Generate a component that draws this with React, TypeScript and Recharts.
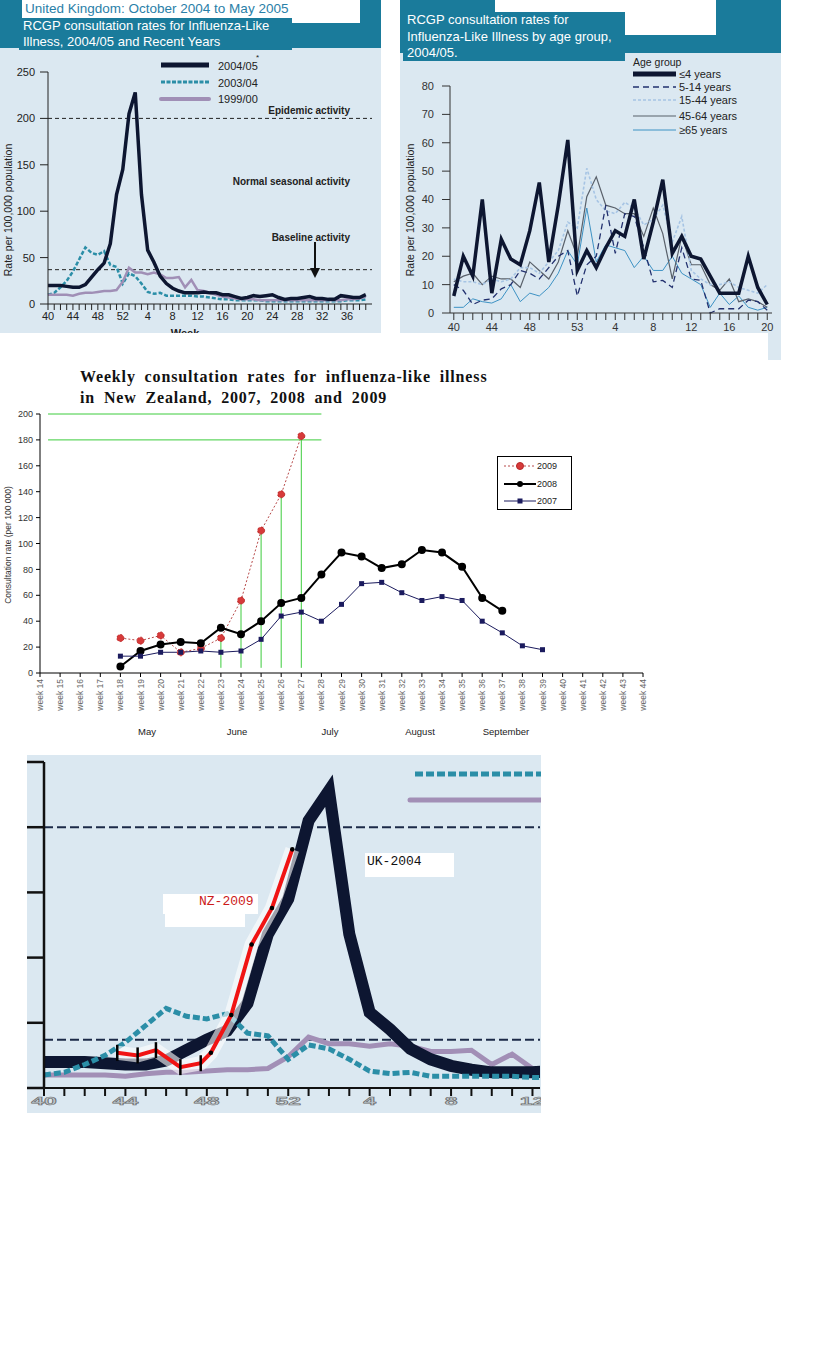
import React from 'react'
import { LineChart, Line, XAxis, YAxis, ReferenceLine } from 'recharts'

const SANS = 'Arial, "Liberation Sans", sans-serif'
const SERIF = '"Times New Roman", "Liberation Serif", serif'
const MONO = '"Courier New", "Liberation Mono", monospace'
const PANEL = '#dbe8f1'
const TEAL = '#1a7b9b'

// UK RCGP influenza-like illness, week 40 through week 39 of the next year
const ukWeeks = [40, 41, 42, 43, 44, 45, 46, 47, 48, 49, 50, 51, 52, 1, 2, 3, 4, 5, 6, 7, 8, 9, 10, 11, 12, 13, 14, 15, 16, 17, 18, 19, 20, 21, 22, 23, 24, 25, 26, 27, 28, 29, 30, 31, 32, 33, 34, 35, 36, 37, 38, 39]
const uk2004 = [20, 20, 20, 19, 18, 18, 21, 29, 37, 44, 65, 118, 145, 205, 228, 118, 58, 45, 30, 22, 17, 14, 12, 12, 12, 13, 12, 12, 10, 10, 8, 6, 7, 9, 8, 9, 10, 7, 5, 6, 6, 7, 8, 6, 6, 5, 5, 9, 8, 7, 7, 10]
const uk2003 = [10, 12, 18, 25, 35, 48, 61, 55, 53, 57, 42, 40, 22, 33, 30, 22, 13, 11, 12, 9, 9, 9, 9, 9, 8, 8, 7, 6, 5, 5, 4, 4, 4, 4, 4, 3, 3, 3, 3, 3, 3, 3, 3, 3, 3, 3, 3, 3, 4, 4, 4, 5]
const uk1999 = [10, 10, 10, 10, 9, 11, 12, 12, 13, 14, 14, 15, 24, 39, 34, 34, 32, 34, 32, 28, 28, 29, 18, 26, 15, 14, 12, 10, 8, 7, 6, 5, 5, 5, 4, 4, 4, 4, 4, 4, 4, 4, 4, 4, 4, 4, 4, 4, 5, 5, 6, 8]
const ukRateTicks = [0, 50, 100, 150, 200, 250]
const epidemicLevel = 200
const baselineLevel = 37

// RCGP by age group 2004/05, week 40 to week 20
const ageWeeks = [40, 41, 42, 43, 44, 45, 46, 47, 48, 49, 50, 51, 52, 53, 1, 2, 3, 4, 5, 6, 7, 8, 9, 10, 11, 12, 13, 14, 15, 16, 17, 18, 19, 20]
const ageLabelWeeks = [40, 44, 48, 53, 4, 8, 12, 16, 20]
const ageUnder5 = [6, 20, 13, 40, 7, 26, 19, 17, 29, 46, 18, 38, 61, 15, 22, 16, 23, 29, 27, 40, 19, 32, 47, 21, 27, 20, 19, 13, 7, 7, 7, 20, 9, 3]
const age5to14 = [10, 8, 3, 4.5, 5, 8.5, 10, 15, 14, 12, 16, 20, 22, 6, 17, 20, 38, 21, 35, 34, 23, 11, 11.5, 9, 23, 12, 11.5, 0, 1.5, 1.5, 1.5, 4.5, 4, 1]
const age15to44 = [12, 11, 11, 10, 12, 11, 12, 16, 16, 14, 18, 22, 32, 30, 51, 40, 36, 35, 39, 37, 31, 33, 38, 25, 34, 15, 12, 10, 10, 11, 9, 8, 7, 10]
const age45to64 = [11, 13, 14, 10, 13, 12, 12, 9, 18, 15, 12, 18, 29, 20, 41, 48, 38, 37, 35, 35, 27, 37, 28, 12, 27, 17, 17, 10, 8, 12, 4, 5, 4, 2]
const age65plus = [2, 2, 5, 4, 3.5, 5, 10, 4, 7, 6, 9, 14, 22, 17, 37, 18, 24, 23, 22, 16, 20, 15, 15, 20, 14, 12, 10, 2, 7, 3, 6, 2, 1, 2]
const ageRateTicks = [0, 10, 20, 30, 40, 50, 60, 70, 80]

// New Zealand weekly consultation rates (per 100 000)
const nzWeeks = [14, 15, 16, 17, 18, 19, 20, 21, 22, 23, 24, 25, 26, 27, 28, 29, 30, 31, 32, 33, 34, 35, 36, 37, 38, 39, 40, 41, 42, 43, 44]
const nzFirstWeek = 18
const nz2009 = [27, 25, 29, 16, 19, 27, 56, 110, 138, 183]
const nz2008 = [5, 17, 22, 24, 23, 35, 30, 40, 54, 58, 76, 93, 90, 81, 84, 95, 93, 82, 58, 48]
const nz2007 = [13, 13, 16, 16, 17, 16, 17, 26, 44, 47, 40, 53, 69, 70, 62, 56, 59, 56, 40, 31, 21, 18]
const nzRateTicks = [0, 20, 40, 60, 80, 100, 120, 140, 160, 180, 200]
const nzGuideLevels = [200, 180]
const nzGuideWeeks = [23, 24, 25, 26, 27]

// overlay: UK week index where each NZ-2009 week (18..27) was pasted
const nzOverlayIndex = [3.6, 4.6, 5.5, 6.7, 7.7, 8.2, 9.2, 10.2, 11.2, 12.2]

function UkSeasonChart() {
  const rows = ukWeeks.map((w, i) => ({ i, week: w, s2004: uk2004[i], s2003: uk2003[i], s1999: uk1999[i] }))
  const small = { fontSize: 11, fill: '#222', fontFamily: SANS }
  return (
    <div style={{ position: 'absolute', left: 0, top: 0, width: 381, height: 333, background: PANEL, overflow: 'hidden', fontFamily: SANS }}>
      <LineChart width={381} height={333} data={rows} margin={{ top: 72, right: 9, bottom: 0, left: 0 }}>
        <XAxis
          dataKey="i"
          type="number"
          domain={[0, 52]}
          ticks={rows.map((r) => r.i)}
          interval={0}
          tickSize={6}
          tickMargin={2}
          height={29}
          stroke="#222"
          tick={small}
          tickFormatter={(v: number) => (v % 4 === 0 ? String(ukWeeks[v]) : '')}
        />
        <YAxis domain={[0, 250]} ticks={ukRateTicks} width={48} tickSize={8} tickMargin={5} stroke="#222" tick={small} />
        <ReferenceLine y={epidemicLevel} stroke="#222" strokeDasharray="4 3" />
        <ReferenceLine y={baselineLevel} stroke="#222" strokeDasharray="4 3" />
        <Line dataKey="s2003" stroke="#2b8ea7" strokeWidth={2.5} strokeDasharray="4 2" dot={false} isAnimationActive={false} />
        <Line dataKey="s1999" stroke="#a08fb6" strokeWidth={2.5} dot={false} isAnimationActive={false} />
        <Line dataKey="s2004" stroke="#0d1631" strokeWidth={3.5} dot={false} isAnimationActive={false} />
      </LineChart>

      <div style={{ position: 'absolute', left: 0, top: 0, width: 381, height: 48, background: TEAL }} />
      <div style={{ position: 'absolute', left: 22, top: 0, width: 268, height: 18, background: '#fff' }} />
      <div style={{ position: 'absolute', left: 290, top: 0, width: 70, height: 23, background: '#fff' }} />
      <div style={{ position: 'absolute', left: 25, top: 0, fontSize: 13.5, lineHeight: '17px', color: '#2a80a8', whiteSpace: 'nowrap' }}>
        United Kingdom: October 2004 to May 2005
      </div>
      <div style={{ position: 'absolute', left: 19, top: 18, width: 273, height: 32, background: TEAL }} />
      <div style={{ position: 'absolute', left: 23, top: 18, fontSize: 13, lineHeight: '16px', color: '#fff', whiteSpace: 'nowrap' }}>
        RCGP consultation rates for Influenza-Like
        <br />
        Illness, 2004/05 and Recent Years
      </div>

      <svg style={{ position: 'absolute', left: 0, top: 0 }} width={381} height={333}>
        <line x1={161} x2={209} y1={65} y2={65} stroke="#0d1631" strokeWidth={5} />
        <line x1={161} x2={209} y1={82} y2={82} stroke="#2b8ea7" strokeWidth={3} strokeDasharray="4 1.5" />
        <line x1={161} x2={209} y1={99} y2={99} stroke="#a08fb6" strokeWidth={4} strokeLinecap="round" />
        <g fontSize={11} fill="#222" fontFamily={SANS}>
          <text x={218} y={70}>2004/05</text>
          <text x={256} y={60} fontSize={8}>*</text>
          <text x={218} y={87}>2003/04</text>
          <text x={218} y={103}>1999/00</text>
        </g>
        <g fontSize={10} fontWeight="bold" fill="#222" fontFamily={SANS} textAnchor="end">
          <text x={350} y={114}>Epidemic activity</text>
          <text x={350} y={185}>Normal seasonal activity</text>
          <text x={350} y={241}>Baseline activity</text>
        </g>
        <line x1={315} x2={315} y1={242} y2={270} stroke="#111" strokeWidth={2} />
        <polygon points="310,268 320,268 315,278" fill="#111" />
        <text x={185} y={337} textAnchor="middle" fontSize={11} fontWeight="bold" fill="#222" fontFamily={SANS}>Week</text>
        <text transform="translate(12,210) rotate(-90)" textAnchor="middle" fontSize={10.5} fill="#222" fontFamily={SANS}>
          Rate per 100,000 population
        </text>
      </svg>
    </div>
  )
}

function AgeGroupChart() {
  const rows = ageWeeks.map((w, i) => ({
    i,
    week: w,
    a0: ageUnder5[i],
    a5: age5to14[i],
    a15: age15to44[i],
    a45: age45to64[i],
    a65: age65plus[i],
  }))
  const small = { fontSize: 11, fill: '#333', fontFamily: SANS }
  return (
    <>
      <div style={{ position: 'absolute', left: 768, top: 330, width: 13, height: 30, background: PANEL }} />
      <div style={{ position: 'absolute', left: 400, top: 0, width: 381, height: 333, background: PANEL, overflow: 'hidden', fontFamily: SANS }}>
        <LineChart width={381} height={333} data={rows} margin={{ top: 86, right: 9, bottom: 0, left: 0 }}>
          <XAxis
            dataKey="i"
            type="number"
            domain={[-0.4, 33.5]}
            ticks={rows.map((r) => r.i)}
            interval={0}
            tickSize={7}
            tickMargin={3}
            height={20}
            stroke="#333"
            tick={small}
            tickFormatter={(v: number) => (ageLabelWeeks.includes(ageWeeks[v]) ? String(ageWeeks[v]) : '')}
          />
          <YAxis domain={[0, 80]} ticks={ageRateTicks} width={50} tickSize={8} tickMargin={8} stroke="#333" tick={small} />
          <Line dataKey="a65" stroke="#3d92c4" strokeWidth={1} dot={false} isAnimationActive={false} />
          <Line dataKey="a45" stroke="#59606a" strokeWidth={1.2} dot={false} isAnimationActive={false} />
          <Line dataKey="a15" stroke="#a6c4e4" strokeWidth={1.6} strokeDasharray="3 2" dot={false} isAnimationActive={false} />
          <Line dataKey="a5" stroke="#22306e" strokeWidth={1.3} strokeDasharray="6 4" dot={false} isAnimationActive={false} />
          <Line dataKey="a0" stroke="#0d1631" strokeWidth={3.5} dot={false} isAnimationActive={false} />
        </LineChart>

        <div style={{ position: 'absolute', left: 0, top: 0, width: 381, height: 53, background: TEAL }} />
        <div style={{ position: 'absolute', left: 95, top: 0, width: 221, height: 35, background: '#fff' }} />
        <div style={{ position: 'absolute', left: 3, top: 12, width: 222, height: 49, background: TEAL }} />
        <div style={{ position: 'absolute', left: 7, top: 12, fontSize: 13, lineHeight: '16.5px', color: '#fff', whiteSpace: 'nowrap' }}>
          RCGP consultation rates for
          <br />
          Influenza-Like Illness by age group,
          <br />
          2004/05.
        </div>

        <svg style={{ position: 'absolute', left: 0, top: 0 }} width={381} height={333}>
          <text x={233} y={66} fontSize={10.5} fill="#222" fontFamily={SANS}>Age group</text>
          <line x1={233} x2={276} y1={74} y2={74} stroke="#0d1631" strokeWidth={5} />
          <line x1={233} x2={276} y1={87} y2={87} stroke="#22306e" strokeWidth={1.3} strokeDasharray="6 4" />
          <line x1={233} x2={276} y1={100} y2={100} stroke="#a6c4e4" strokeWidth={1.6} strokeDasharray="3 2" />
          <line x1={233} x2={276} y1={116} y2={116} stroke="#59606a" strokeWidth={1.2} />
          <line x1={233} x2={276} y1={130} y2={130} stroke="#3d92c4" strokeWidth={1} />
          <g fontSize={11} fill="#222" fontFamily={SANS}>
            <text x={279} y={78}>≤4 years</text>
            <text x={279} y={91}>5-14 years</text>
            <text x={279} y={104}>15-44 years</text>
            <text x={279} y={120}>45-64 years</text>
            <text x={279} y={134}>≥65 years</text>
          </g>
          <text transform="translate(14,210) rotate(-90)" textAnchor="middle" fontSize={10.5} fill="#222" fontFamily={SANS}>
            Rate per 100,000 population
          </text>
        </svg>
      </div>
    </>
  )
}

function WeekTick({ x, y, payload }: any) {
  return (
    <text x={x} y={y} dy={3} transform={`rotate(-90 ${x} ${y})`} textAnchor="end" fontSize={8.5} fill="#666" fontFamily={SANS}>
      {`week ${payload.value}`}
    </text>
  )
}

function SquareDot({ cx, cy, value }: any) {
  if (cx == null || cy == null || value == null) return <g />
  return <rect x={cx - 2.5} y={cy - 2.5} width={5} height={5} fill="#1b1b5e" />
}

function NewZealandChart() {
  const rows = nzWeeks.map((w) => ({
    week: w,
    y2009: nz2009[w - nzFirstWeek],
    y2008: nz2008[w - nzFirstWeek],
    y2007: nz2007[w - nzFirstWeek],
  }))
  return (
    <>
      <div
        style={{
          position: 'absolute',
          left: 80,
          top: 366,
          fontFamily: SERIF,
          fontWeight: 'bold',
          fontSize: 16,
          lineHeight: '21px',
          wordSpacing: 4,
          letterSpacing: 0.85,
          color: '#111',
          whiteSpace: 'nowrap',
        }}
      >
        Weekly consultation rates for influenza-like illness
        <br />
        in New Zealand, 2007, 2008 and 2009
      </div>
      <div style={{ position: 'absolute', left: 0, top: 400 }}>
        <LineChart width={660} height={330} data={rows} margin={{ top: 14, right: 17, bottom: 12, left: 0 }}>
          <XAxis
            dataKey="week"
            type="number"
            domain={[14, 44]}
            ticks={nzWeeks}
            interval={0}
            tickSize={4}
            tickMargin={2}
            height={45}
            stroke="#000"
            tick={<WeekTick />}
          />
          <YAxis domain={[0, 200]} ticks={nzRateTicks} width={40} tickSize={4} tickMargin={3} stroke="#000" tick={{ fontSize: 9, fill: '#333', fontFamily: SANS }} />
          {nzGuideLevels.map((lv) => (
            <ReferenceLine key={lv} segment={[{ x: 14.4, y: lv }, { x: 28, y: lv }]} stroke="#3ccc3c" strokeWidth={1} />
          ))}
          {nzGuideWeeks.map((w) => (
            <ReferenceLine
              key={w}
              segment={[{ x: w, y: 4 }, { x: w, y: Math.min(nz2009[w - nzFirstWeek], nzGuideLevels[1]) }]}
              stroke="#3ccc3c"
              strokeWidth={1}
            />
          ))}
          <Line dataKey="y2009" stroke="#b84a4a" strokeWidth={1} strokeDasharray="2 2" dot={{ r: 3.5, fill: '#d63a3a', stroke: '#b82828', strokeWidth: 1 }} isAnimationActive={false} />
          <Line dataKey="y2008" stroke="#000" strokeWidth={2} dot={{ r: 3, fill: '#000', stroke: '#000' }} isAnimationActive={false} />
          <Line
            dataKey="y2007"
            stroke="#1b1b5e"
            strokeWidth={1}
            dot={(p: any) => <SquareDot key={`sq-${p.index}`} cx={p.cx} cy={p.cy} value={p.value} />}
            isAnimationActive={false}
          />
        </LineChart>
      </div>

      <svg style={{ position: 'absolute', left: 0, top: 470 }} width={20} height={160}>
        <text transform="translate(11,75) rotate(-90)" textAnchor="middle" fontSize={8.5} fill="#333" fontFamily={SANS}>
          Consultation rate (per 100 000)
        </text>
      </svg>

      <div style={{ position: 'absolute', left: 497, top: 456, width: 73, height: 52, border: '1px solid #000', background: '#fff' }}>
        <svg width={73} height={52} style={{ display: 'block' }}>
          <line x1={6} x2={38} y1={9} y2={9} stroke="#b84a4a" strokeDasharray="2 2" />
          <circle cx={22} cy={9} r={3.5} fill="#d63a3a" stroke="#b82828" />
          <line x1={6} x2={38} y1={27} y2={27} stroke="#000" strokeWidth={2} />
          <circle cx={22} cy={27} r={3} fill="#000" />
          <line x1={6} x2={38} y1={44} y2={44} stroke="#1b1b5e" />
          <rect x={19.5} y={41.5} width={5} height={5} fill="#1b1b5e" />
          <g fontSize={9} fill="#222" fontFamily={SANS}>
            <text x={39} y={12}>2009</text>
            <text x={39} y={30}>2008</text>
            <text x={39} y={47}>2007</text>
          </g>
        </svg>
      </div>

      {[
        { t: 'May', x: 147 },
        { t: 'June', x: 237 },
        { t: 'July', x: 330 },
        { t: 'August', x: 420 },
        { t: 'September', x: 506 },
      ].map((m) => (
        <div
          key={m.t}
          style={{ position: 'absolute', left: m.x - 40, top: 726, width: 80, textAlign: 'center', fontSize: 9.5, fontFamily: SANS, color: '#222' }}
        >
          {m.t}
        </div>
      ))}
    </>
  )
}

function StretchedTick({ x, y, payload }: any) {
  const v = payload.value
  const label = v % 4 === 0 ? String(ukWeeks[v]) : ''
  return (
    <g transform={`translate(${x},${y}) scale(2.1,1)`}>
      <text x={0} y={0} dy={7} textAnchor="middle" fontSize={11} fontWeight="bold" fill="#bcc6cc" stroke="#6b6b6b" strokeWidth={0.5} fontFamily={SANS}>
        {label}
      </text>
    </g>
  )
}

function OverlayDot({ cx, cy, payload }: any) {
  if (cx == null || cy == null || payload == null || payload.nz == null) return <g />
  if (payload.k < 5) {
    return <line x1={cx} x2={cx} y1={cy - 8} y2={cy + 8} stroke="#000" strokeWidth={2.5} />
  }
  return <circle cx={cx} cy={cy} r={2.3} fill="#000" />
}

function OverlayChart() {
  const ukRows = ukWeeks.slice(0, 26).map((w, i) => ({ x: i, s2004: uk2004[i], s2003: uk2003[i], s1999: uk1999[i] }))
  const nzRows = nzOverlayIndex.map((x, k) => ({ x, k, nz: nz2009[k] }))
  const rows: any[] = [...ukRows, ...nzRows].sort((a, b) => a.x - b.x)
  const tickIdx = ukWeeks.slice(0, 25).map((_, i) => i)
  return (
    <>
      <div style={{ position: 'absolute', left: 27, top: 755, width: 514, height: 358, background: PANEL }} />
      <div style={{ position: 'absolute', left: 27, top: 755 }}>
        <LineChart width={514} height={358} data={rows} margin={{ top: 7, right: 1, bottom: 0, left: 0 }}>
          <XAxis
            dataKey="x"
            type="number"
            domain={[0, 24.37]}
            allowDataOverflow
            ticks={tickIdx}
            interval={0}
            tickSize={8}
            tickMargin={2}
            height={25}
            stroke="#111"
            strokeWidth={2}
            tick={<StretchedTick />}
          />
          <YAxis domain={[0, 250]} ticks={ukRateTicks} width={17} tickSize={17} stroke="#111" strokeWidth={2.5} tickFormatter={() => ''} />
          <ReferenceLine y={epidemicLevel} stroke="#1c2a48" strokeWidth={2} strokeDasharray="9 4" />
          <ReferenceLine y={baselineLevel} stroke="#1c2a48" strokeWidth={2} strokeDasharray="9 4" />
          <Line dataKey="s1999" stroke="#a28fb6" strokeWidth={5} dot={false} connectNulls isAnimationActive={false} />
          <Line dataKey="s2004" stroke="#0d1631" strokeWidth={12} dot={false} connectNulls isAnimationActive={false} />
          <Line dataKey="s2003" stroke="#2b8ea7" strokeWidth={5} strokeDasharray="7 3" dot={false} connectNulls isAnimationActive={false} />
          <Line dataKey="nz" stroke="#ffffff" strokeOpacity={0.6} strokeWidth={14} dot={false} connectNulls isAnimationActive={false} />
          <Line
            dataKey="nz"
            stroke="#f01414"
            strokeWidth={4}
            connectNulls
            dot={(p: any) => <OverlayDot key={`od-${p.index}`} cx={p.cx} cy={p.cy} payload={p.payload} />}
            isAnimationActive={false}
          />
        </LineChart>
      </div>

      <svg style={{ position: 'absolute', left: 400, top: 765 }} width={141} height={45}>
        <line x1={15} x2={141} y1={9} y2={9} stroke="#2b8ea7" strokeWidth={5} strokeDasharray="8 3" />
        <line x1={10} x2={141} y1={35} y2={35} stroke="#a28fb6" strokeWidth={5} strokeLinecap="round" />
      </svg>

      <div style={{ position: 'absolute', left: 365, top: 853, width: 89, height: 24, background: '#fff' }} />
      <div style={{ position: 'absolute', left: 367, top: 853, fontFamily: MONO, fontSize: 13, lineHeight: '18px', color: '#111' }}>UK-2004</div>

      <div style={{ position: 'absolute', left: 163, top: 894, width: 95, height: 20, background: '#fff' }} />
      <div style={{ position: 'absolute', left: 165, top: 913, width: 80, height: 14, background: '#fff' }} />
      <div style={{ position: 'absolute', left: 199, top: 893, fontFamily: MONO, fontSize: 13, lineHeight: '18px', color: '#cc1a1a' }}>NZ-2009</div>
    </>
  )
}

export default function App() {
  return (
    <div style={{ position: 'absolute', left: 0, top: 0, width: 820, height: 1360, background: '#fff', fontFamily: SANS, overflow: 'hidden' }}>
      <UkSeasonChart />
      <AgeGroupChart />
      <NewZealandChart />
      <OverlayChart />
    </div>
  )
}
